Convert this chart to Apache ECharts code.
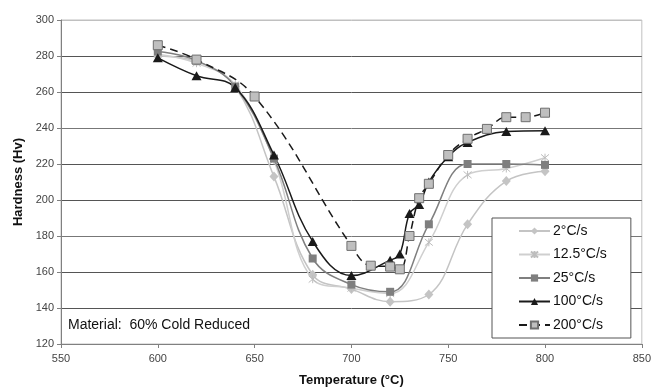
<!DOCTYPE html>
<html><head><meta charset="utf-8">
<script src="https://cdn.jsdelivr.net/npm/echarts@6/dist/echarts.min.js"></script>
<style>html,body{margin:0;padding:0;background:#fff}#c{width:654px;height:392px}</style>
</head><body><div id="c"></div>
<script>
var seriesNames = ['2°C/s', '12.5°C/s', '25°C/s', '100°C/s', '200°C/s'];
var s2 = [[600,280],[620,277],[640,263],[660,213],[680,158.5],[700,150.5],[720,143.5],[740,147.5],[760,186.5],[780,210.5],[800,216]];
var s12 = [[600,281],[620,276],[640,264],[660,222],[680,156],[700,151],[720,148],[740,176.5],[760,214],[780,217.5],[800,223.5]];
var s25 = [[600,282.5],[620,277.5],[640,263],[660,223],[680,167.5],[700,153],[720,149],[740,186.5],[760,220],[780,220],[800,219.5]];
var s100 = [[600,279],[620,269],[640,262.5],[660,225],[680,177],[700,158],[720,166.5],[725,170],[730,192.5],[735,197.5],[740,210],[750,224],[760,232],[780,238],[800,238.5]];
var s200 = [[600,286],[620,278],[650,257.5],[700,174.5],[710,163.5],[720,163],[725,161.5],[730,180],[735,201],[740,209],[750,225],[760,234],[770,239.5],[780,246],[790,246],[800,248.5]];
var yTicks = [120,140,160,180,200,220,240,260,280,300];
var xTicks = [550,600,650,700,750,800,850];

var font = 'Liberation Sans, Arial, sans-serif';
var star = 'path://M0,0L10,10M10,0L0,10M5,-1L5,11';
function mk(name, data, o) {
  return Object.assign({
    name: name, type: 'line', data: data, smooth: 0.4,
    symbolSize: 8, z: 2
  }, o);
}
var series = [
  mk(seriesNames[0], s2, {symbol: 'diamond', symbolSize: [9, 10],
     itemStyle: {color: '#c4c4c4'}, lineStyle: {color: '#c4c4c4', width: 1.5}}),
  mk(seriesNames[1], s12, {symbol: star, symbolSize: 8,
     itemStyle: {color: '#cfcfcf', borderColor: '#bdbdbd', borderWidth: 1}, lineStyle: {color: '#cfcfcf', width: 1.5}}),
  mk(seriesNames[2], s25, {symbol: 'rect', symbolSize: 8,
     itemStyle: {color: '#7f7f7f'}, lineStyle: {color: '#7f7f7f', width: 1.5}}),
  mk(seriesNames[3], s100, {symbol: 'triangle', symbolSize: [10, 9],
     itemStyle: {color: '#1a1a1a'}, lineStyle: {color: '#1a1a1a', width: 1.5}}),
  mk(seriesNames[4], s200, {symbol: 'rect', symbolSize: 9,
     itemStyle: {color: '#bfbfbf', borderColor: '#6e6e6e', borderWidth: 1},
     lineStyle: {color: '#1a1a1a', width: 1.5, type: [8, 5]}})
];

var chart = echarts.init(document.getElementById('c'), null, {renderer: 'canvas'});
chart.setOption({
  animation: false,
  backgroundColor: '#fff',
  textStyle: {fontFamily: font},
  grid: {left: 61, right: 6, top: 20, bottom: 45, show: true, borderColor: '#c0c0c0', borderWidth: 1},
  xAxis: {
    type: 'value', min: xTicks[0], max: xTicks[xTicks.length - 1], interval: 50,
    axisLine: {onZero: false, lineStyle: {color: '#808080', width: 1}},
    axisTick: {show: true, length: 4, lineStyle: {color: '#808080'}},
    splitLine: {show: false},
    axisLabel: {color: '#444', fontSize: 11, fontFamily: font, margin: 9},
    name: 'Temperature (°C)', nameLocation: 'middle', nameGap: 30,
    nameTextStyle: {fontWeight: 'bold', fontSize: 13, color: '#111', fontFamily: font}
  },
  yAxis: {
    type: 'value', min: yTicks[0], max: yTicks[yTicks.length - 1], interval: 20,
    axisLine: {show: true, lineStyle: {color: '#808080', width: 1}},
    axisTick: {show: true, length: 4, lineStyle: {color: '#808080'}},
    splitLine: {show: true, lineStyle: {color: ['#808080','#555','#555','#777','#555','#555','#777','#555','#555','#c0c0c0'], width: 1}},
    axisLabel: {color: '#444', fontSize: 11, fontFamily: font, margin: 7},
    name: 'Hardness (Hv)', nameLocation: 'middle', nameGap: 33, nameRotate: 90,
    nameTextStyle: {fontWeight: 'bold', fontSize: 13, color: '#111', fontFamily: font}
  },
  legend: {
    data: seriesNames, orient: 'vertical', left: 492, top: 218,
    backgroundColor: '#fff', borderColor: '#555', borderWidth: 1,
    padding: [6, 24, 6, 26], itemGap: 9.5, itemWidth: 31, itemHeight: 9,
    textStyle: {fontSize: 14, color: '#111', fontFamily: font, padding: [0, 0, 0, -2]}
  },
  graphic: [{
    type: 'text', left: 68, top: 318,
    style: {text: 'Material:  60% Cold Reduced', fontSize: 14, fill: '#111', fontFamily: font}
  }],
  series: series
});
</script></body></html>
